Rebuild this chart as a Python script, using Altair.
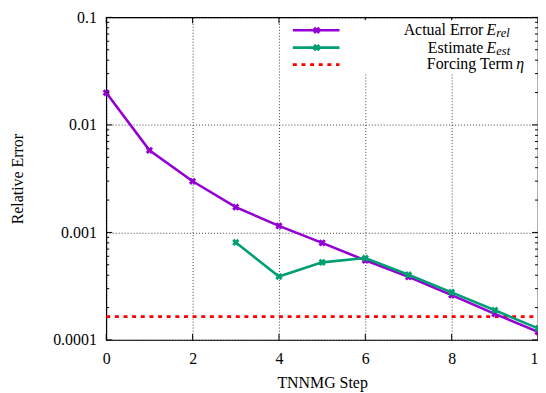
import altair as alt
import pandas as pd

# ---- data ----
steps_actual = [0, 1, 2, 3, 4, 5, 6, 7, 8, 9, 10]
actual = [0.0199, 0.0058, 0.00299, 0.00172, 0.00115, 0.00080, 0.00055, 0.000386, 0.000261, 0.000175, 0.000119]
steps_est = [3, 4, 5, 6, 7, 8, 9, 10]
estimate = [0.000807, 0.000389, 0.000527, 0.000578, 0.000404, 0.000277, 0.000189, 0.000128]
forcing_steps = [0, 10]
forcing = [0.000165, 0.000165]
x_ticks = [0, 2, 4, 6, 8, 10]
y_major = [1e-4, 1e-3, 1e-2, 1e-1]
y_minor = [k * 10.0 ** e for e in (-4, -3, -2) for k in range(2, 10)]

W, H = 435, 325
FONT = "Liberation Serif"
FS = 16
PURPLE = "#9400D3"
GREEN = "#009E73"
RED = "#FF0000"

df_a = pd.DataFrame({"step": steps_actual, "err": actual})
df_e = pd.DataFrame({"step": steps_est, "err": estimate})
df_f = pd.DataFrame({"step": forcing_steps, "err": forcing})

xs = alt.Scale(domain=[0, 10], nice=False, zero=False)
ys = alt.Scale(type="log", domain=[1e-4, 0.1], nice=False)

xax = alt.Axis(values=x_ticks, title="TNNMG Step", ticks=False, domain=False, grid=True,
               gridDash=[1, 2], gridColor="black", gridOpacity=0.75, gridWidth=1,
               labelFont=FONT, labelFontSize=FS, labelColor="black", labelPadding=11,
               titleFont=FONT, titleFontSize=FS, titleFontWeight="normal", titleColor="black",
               titlePadding=8, labelFlush=False)
yax = alt.Axis(values=y_major, format="~g", title="Relative Error", ticks=False, domain=False, grid=True,
               gridDash=[1, 2], gridColor="black", gridOpacity=0.75, gridWidth=1,
               labelFont=FONT, labelFontSize=FS, labelColor="black", labelPadding=10,
               titleFont=FONT, titleFontSize=FS, titleFontWeight="normal", titleColor="black",
               titlePadding=27)

X = alt.X("step:Q", scale=xs, axis=xax)
Y = alt.Y("err:Q", scale=ys, axis=yax)

forcing_line = alt.Chart(df_f).mark_line(color=RED, strokeWidth=2.8, strokeDash=[4, 4.7]).encode(x=X, y=Y)

def series(df, color):
    line = alt.Chart(df).mark_line(color=color, strokeWidth=2.6).encode(
        x=alt.X("step:Q", scale=xs), y=alt.Y("err:Q", scale=ys))
    pts = alt.Chart(df).mark_point(shape="cross", angle=45, filled=True, size=55, color=color, opacity=1).encode(
        x=alt.X("step:Q", scale=xs), y=alt.Y("err:Q", scale=ys))
    return line + pts

actual_layer = series(df_a, PURPLE)
est_layer = series(df_e, GREEN)

# inward ticks (gnuplot style) on all four sides
df_ymaj = pd.DataFrame({"err": y_major})
df_ymin = pd.DataFrame({"err": y_minor})
df_xt = pd.DataFrame({"step": x_ticks})
tick_layers = []
for d, ln in ((df_ymaj, 6), (df_ymin, 3)):
    tick_layers.append(alt.Chart(d).mark_rule(color="black", strokeWidth=1).encode(
        y=alt.Y("err:Q", scale=ys), x=alt.value(0), x2=alt.value(ln)))
    tick_layers.append(alt.Chart(d).mark_rule(color="black", strokeWidth=1).encode(
        y=alt.Y("err:Q", scale=ys), x=alt.value(W - ln), x2=alt.value(W)))
tick_layers.append(alt.Chart(df_xt).mark_rule(color="black", strokeWidth=1).encode(
    x=alt.X("step:Q", scale=xs), y=alt.value(H), y2=alt.value(H - 6)))
tick_layers.append(alt.Chart(df_xt).mark_rule(color="black", strokeWidth=1).encode(
    x=alt.X("step:Q", scale=xs), y=alt.value(0), y2=alt.value(6)))

# ---- legend (top right, inside the plot) ----
one = pd.DataFrame({"k": [0]})
lx0, lx1, lmid = 188, 235, 212
r1, r2, r3 = 13, 30.5, 47.5
leg_bg = alt.Chart(one).mark_rect(color="white").encode(
    x=alt.value(182), x2=alt.value(432), y=alt.value(3), y2=alt.value(57))
leg = [leg_bg]
for r, c in ((r1, PURPLE), (r2, GREEN)):
    leg.append(alt.Chart(one).mark_rule(color=c, strokeWidth=2.6).encode(
        x=alt.value(lx0), x2=alt.value(lx1), y=alt.value(r)))
    leg.append(alt.Chart(one).mark_point(shape="cross", angle=45, filled=True, size=55, color=c, opacity=1).encode(
        x=alt.value(lmid), y=alt.value(r)))
leg.append(alt.Chart(one).mark_rule(color=RED, strokeWidth=2.8, strokeDash=[4, 4.7]).encode(
    x=alt.value(lx0), x2=alt.value(lx1), y=alt.value(r3)))

def txt(s, x, y, size=FS, style="normal", align="right"):
    return alt.Chart(one).mark_text(text=s, font=FONT, fontSize=size, fontStyle=style, align=align,
                                    baseline="middle", color="black").encode(x=alt.value(x), y=alt.value(y))

leg += [
    txt("Actual Error", 380, r1),
    txt("E", 383, r1, style="italic", align="left"),
    txt("rel", 393, r1 + 3, size=12.5, style="italic", align="left"),
    txt("Estimate", 380, r2),
    txt("E", 383, r2, style="italic", align="left"),
    txt("est", 393, r2 + 3, size=12.5, style="italic", align="left"),
    txt("Forcing Term", 410, r3),
    txt("η", 413, r3, style="italic", align="left"),
]

chart = alt.layer(forcing_line, actual_layer, est_layer, *tick_layers, *leg).properties(
    width=W, height=H,
    autosize=alt.AutoSizeParams(type="none"),
    padding={"left": 99, "top": 8, "right": 0, "bottom": 54},
).configure_view(stroke="black", strokeWidth=1.2)

chart.save("out.html", embed_options={"renderer": "svg", "actions": False})
